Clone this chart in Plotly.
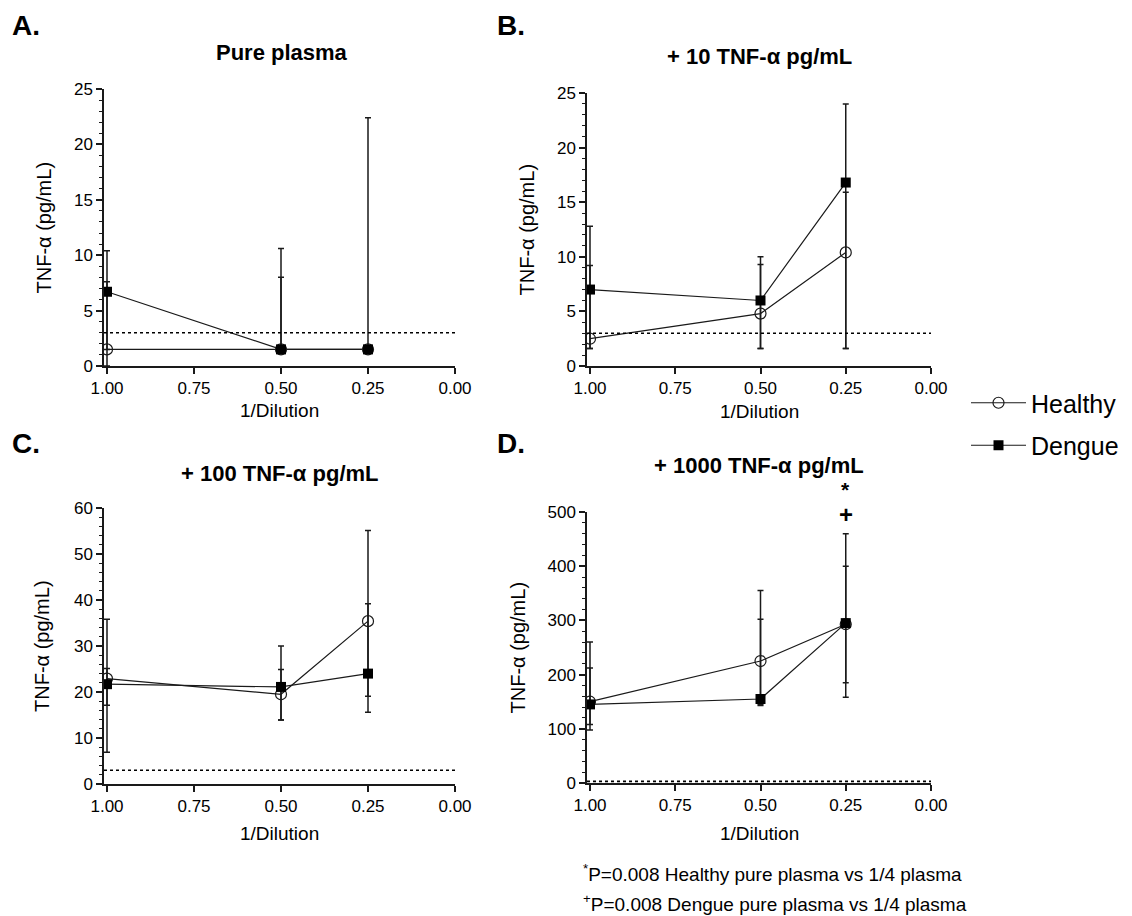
import plotly.graph_objects as go

W, H = 1132, 916
FONT = "Liberation Sans, Arial, sans-serif"

# ---------------- data ----------------
dilution = [1.0, 0.5, 0.25]
LOD = 3  # detection limit (dotted line)

# Panel A: pure plasma
a_healthy = [1.5, 1.5, 1.5]
a_healthy_hi = [7.6, 8.0, 1.5]
a_healthy_lo = [1.5, 1.5, 1.5]
a_dengue = [6.7, 1.5, 1.5]
a_dengue_hi = [10.4, 10.6, 22.4]
a_dengue_lo = [0.0, 1.5, 1.5]

# Panel B: + 10 TNF-a
b_healthy = [2.5, 4.8, 10.4]
b_healthy_hi = [9.2, 9.3, 15.9]
b_healthy_lo = [1.6, 1.6, 1.6]
b_dengue = [7.0, 6.0, 16.8]
b_dengue_hi = [12.8, 10.0, 24.0]
b_dengue_lo = [1.6, 1.6, 1.6]

# Panel C: + 100 TNF-a
c_healthy = [22.9, 19.5, 35.4]
c_healthy_hi = [35.8, 30.0, 55.1]
c_healthy_lo = [6.9, 13.9, 19.1]
c_dengue = [21.7, 21.1, 24.0]
c_dengue_hi = [25.1, 24.9, 39.2]
c_dengue_lo = [17.1, 13.9, 15.6]

# Panel D: + 1000 TNF-a
d_healthy = [150, 225, 293]
d_healthy_hi = [260, 355, 460]
d_healthy_lo = [98, 145, 158]
d_dengue = [145, 155, 295]
d_dengue_hi = [212, 302, 400]
d_dengue_lo = [108, 143, 185]

x_ticks = [1.0, 0.75, 0.5, 0.25, 0.0]
panel_letters = ["A.", "B.", "C.", "D."]
panel_titles = ["Pure plasma", "+ 10 TNF-α pg/mL", "+ 100 TNF-α pg/mL", "+ 1000 TNF-α pg/mL"]
y_ranges = [(0, 25), (0, 25), (0, 60), (0, 500)]
y_dticks = [5, 5, 10, 100]
y_minor = [1, 1, 2, 20]

# ---------------- layout geometry (pixels) ----------------
OFF = 8  # page body margin compensation

def px(x):
    return (x - OFF) / W

def py(y):
    return 1 - (y - OFF) / H

# (x_left, x_right, y_bottom, y_top) in pixels
boxes = [
    (104, 455, 366, 89),
    (587, 931, 366, 93),
    (104, 455, 784, 508),
    (587, 931, 783, 512),
]
xone = [107, 590, 107, 590]  # pixel of x=1.00

fig = go.Figure()

series = [
    (a_healthy, a_healthy_hi, a_healthy_lo, a_dengue, a_dengue_hi, a_dengue_lo),
    (b_healthy, b_healthy_hi, b_healthy_lo, b_dengue, b_dengue_hi, b_dengue_lo),
    (c_healthy, c_healthy_hi, c_healthy_lo, c_dengue, c_dengue_hi, c_dengue_lo),
    (d_healthy, d_healthy_hi, d_healthy_lo, d_dengue, d_dengue_hi, d_dengue_lo),
]

LINE_C = "#1a1a1a"

for i, (hm, hh, hl, dm, dh, dl) in enumerate(series):
    xa = "x" if i == 0 else f"x{i+1}"
    ya = "y" if i == 0 else f"y{i+1}"
    fig.add_trace(go.Scatter(
        x=dilution, y=hm, xaxis=xa, yaxis=ya, mode="lines+markers",
        name="Healthy", legendgroup="h", showlegend=(i == 0),
        line=dict(color=LINE_C, width=1.2),
        marker=dict(symbol="circle-open", size=11, color=LINE_C, line=dict(width=1.2)),
        error_y=dict(type="data", symmetric=False,
                     array=[u - m for u, m in zip(hh, hm)],
                     arrayminus=[m - l for m, l in zip(hm, hl)],
                     color=LINE_C, thickness=1.5, width=3),
    ))
    fig.add_trace(go.Scatter(
        x=dilution, y=dm, xaxis=xa, yaxis=ya, mode="lines+markers",
        name="Dengue", legendgroup="d", showlegend=(i == 0),
        line=dict(color=LINE_C, width=1.2),
        marker=dict(symbol="square", size=10, color="black"),
        error_y=dict(type="data", symmetric=False,
                     array=[u - m for u, m in zip(dh, dm)],
                     arrayminus=[m - l for m, l in zip(dm, dl)],
                     color=LINE_C, thickness=1.5, width=3),
    ))

layout = {}
annotations = []
shapes = []
for i, (x0, x1, yb, yt) in enumerate(boxes):
    sfx = "" if i == 0 else str(i + 1)
    per = (x1 - xone[i])  # pixels per 1.0 unit (1 -> 0)
    xmax = 1.0 + (xone[i] - x0) / per
    layout[f"xaxis{sfx}"] = dict(
        domain=[px(x0), px(x1)], anchor=f"y{sfx}", range=[xmax, 0],
        tickvals=x_ticks, tickformat=".2f", showgrid=False, zeroline=False,
        automargin=False,
        showline=True, linecolor=LINE_C, linewidth=1.5,
        ticks="outside", ticklen=6, tickwidth=1.5, tickcolor=LINE_C,
        tickfont=dict(family=FONT, size=17, color="black"),
    )
    lo, hi = y_ranges[i]
    layout[f"yaxis{sfx}"] = dict(
        domain=[py(yb), py(yt)], anchor=f"x{sfx}", range=[lo, hi],
        dtick=y_dticks[i], tick0=0, showgrid=False, zeroline=False,
        automargin=False,
        showline=True, linecolor=LINE_C, linewidth=1.5,
        ticks="outside", ticklen=6, tickwidth=1.5, tickcolor=LINE_C,
        tickfont=dict(family=FONT, size=17, color="black"),
        minor=dict(dtick=y_minor[i], tick0=0, ticks="outside", ticklen=3,
                   tickwidth=1, tickcolor=LINE_C),
    )
    # detection-limit dotted line
    shapes.append(dict(type="line", xref=f"x{sfx} domain", yref=f"y{sfx}",
                       x0=0, x1=1, y0=LOD, y1=LOD,
                       line=dict(color="black", width=1.6, dash="dot")))

# text positions
letter_pos = [(10, 26), (495, 26), (10, 443), (495, 443)]
title_pos = [(282, 52), (759, 57), (280, 473), (759, 465)]
xtitle_y = [410, 411, 833, 833]
ytitle_x = [43, 527, 42, 517]

for i in range(4):
    x0, x1, yb, yt = boxes[i]
    annotations.append(dict(text=f"<b>{panel_letters[i]}</b>", x=px(letter_pos[i][0]), y=py(letter_pos[i][1]),
                            xref="paper", yref="paper", xanchor="left", yanchor="middle", showarrow=False,
                            font=dict(family=FONT, size=28, color="black")))
    annotations.append(dict(text=f"<b>{panel_titles[i]}</b>", x=px(title_pos[i][0]), y=py(title_pos[i][1]),
                            xref="paper", yref="paper", xanchor="center", yanchor="middle", showarrow=False,
                            font=dict(family=FONT, size=22, color="black")))
    annotations.append(dict(text="1/Dilution", x=px((x0 + x1) / 2), y=py(xtitle_y[i]),
                            xref="paper", yref="paper", xanchor="center", yanchor="middle", showarrow=False,
                            font=dict(family=FONT, size=19, color="black")))
    annotations.append(dict(text="TNF-α (pg/mL)", x=px(ytitle_x[i]), y=py((yb + yt) / 2),
                            xref="paper", yref="paper", xanchor="center", yanchor="middle", showarrow=False,
                            textangle=-90, font=dict(family=FONT, size=20, color="black")))

# significance markers in panel D (above the 1/4 dilution point)
annotations.append(dict(text="<b>*</b>", x=0.25, y=py(490), xref="x4", yref="paper", showarrow=False,
                        font=dict(family=FONT, size=21, color="black")))
annotations.append(dict(text="<b>+</b>", x=0.25, y=py(514), xref="x4", yref="paper", showarrow=False,
                        font=dict(family=FONT, size=24, color="black")))

# footnotes
annotations.append(dict(text="<sup>*</sup>P=0.008 Healthy pure plasma vs 1/4 plasma", x=px(581), y=py(873),
                        xref="paper", yref="paper", xanchor="left", yanchor="middle", showarrow=False,
                        font=dict(family=FONT, size=19, color="black")))
annotations.append(dict(text="<sup>+</sup>P=0.008 Dengue pure plasma vs 1/4 plasma", x=px(581), y=py(903),
                        xref="paper", yref="paper", xanchor="left", yanchor="middle", showarrow=False,
                        font=dict(family=FONT, size=19, color="black")))

fig.update_layout(
    width=W, height=H, margin=dict(l=0, r=0, t=0, b=0, autoexpand=False),
    paper_bgcolor="white", plot_bgcolor="white",
    showlegend=True,
    legend=dict(x=px(966), y=py(424), xanchor="left", yanchor="middle",
                font=dict(family=FONT, size=25, color="black"),
                itemwidth=55,
                tracegroupgap=7, traceorder="grouped", bgcolor="rgba(0,0,0,0)"),
    annotations=annotations, shapes=shapes,
    **layout,
)

fig.write_html("out.html")
